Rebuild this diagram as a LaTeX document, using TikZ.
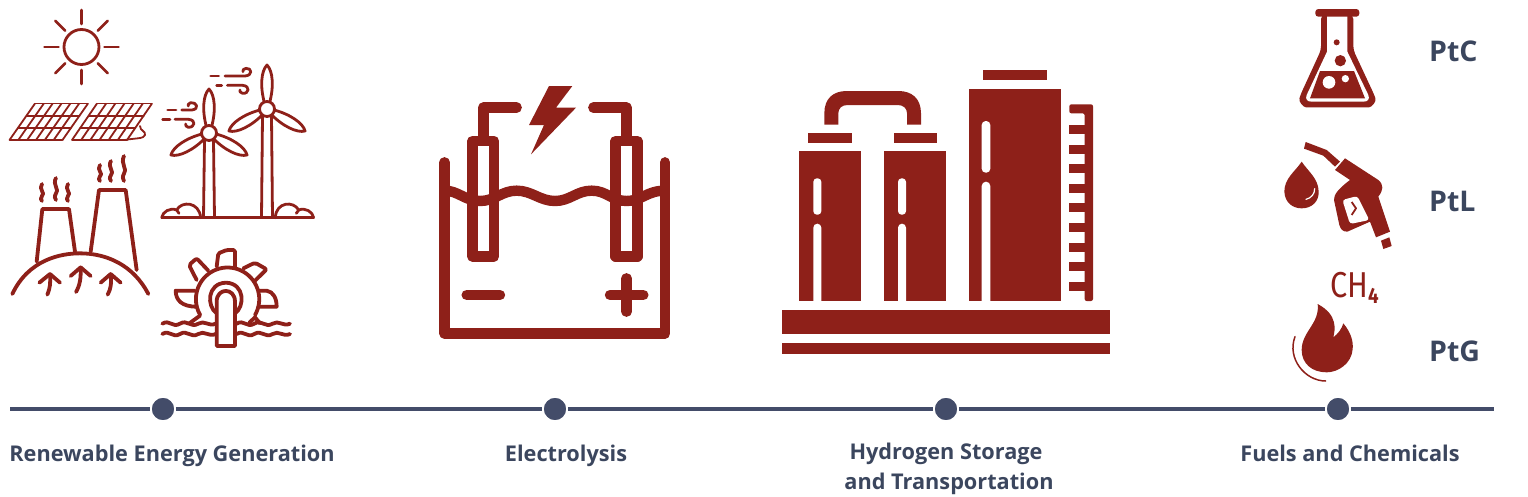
\documentclass[tikz,border=0pt]{standalone}
\usepackage{fontspec}
\setmainfont{Open Sans}
\newfontfamily\chfont{Fira Sans}
\definecolor{brick}{HTML}{8E2019}
\definecolor{slate}{HTML}{3B465E}
\definecolor{rail}{HTML}{434C69}
\tikzset{
  thin icon/.style={draw=brick,line width=2.8pt,line cap=round,line join=round},
  mid icon/.style={draw=brick,line width=3.8pt,line cap=round,line join=round},
  thick icon/.style={draw=brick,line width=10.4pt,line cap=round,line join=round},
  solid icon/.style={fill=brick,draw=none},
  hole/.style={fill=white,draw=none},
  stage dot/.style={circle,fill=rail,draw=white,line width=1.5pt,minimum size=24pt,inner sep=0pt},
  stage label/.style={text=slate,font=\bfseries\fontsize{21.7}{28}\selectfont,align=center,anchor=base,inner sep=0pt},
  route label/.style={text=slate,font=\bfseries\fontsize{28.5}{32}\selectfont,anchor=base west,inner sep=0pt},
  zoomed/.style={x=0.33333pt,y=-0.33333pt},
}
\newcommand{\solarpanel}[3]{%
  \foreach \i in {0,...,6}{\draw[brick,line width=1.8pt] ({#1+\i*#3/6},103.5) -- ({#2+\i*#3/6},140);}
  \foreach \j in {0,...,3}{\draw[brick,line width=1.8pt,line cap=round] ({#1+(#2-#1)*\j/3},{103.5+36.5*\j/3}) -- ({#1+(#2-#1)*\j/3+#3},{103.5+36.5*\j/3});}
}
\newcommand{\blade}[3]{%
  \begin{scope}[shift={(#1,#2)},rotate=#3,y=1pt]
    \draw[thin icon,fill=white] (-2.5,6) .. controls (-7,22) and (-6,38) .. (0,44) .. controls (6,38) and (7,22) .. (2.5,6);
  \end{scope}}
\newcommand{\smoke}[3]{%
  \draw[mid icon] (#1,#2) .. controls (#1-4,{#2+(#3-#2)*.3}) and (#1+4,{#2+(#3-#2)*.55}) .. (#1,{#2+(#3-#2)*.7}) .. controls (#1-2,{#2+(#3-#2)*.85}) and (#1-1,{#2+(#3-#2)*.93}) .. (#1,#3);}
\newcommand{\wavelet}[2]{%
  \draw[mid icon] (#1,#2) .. controls (#1+22,#2-14) and (#1+30,#2+14) .. (#1+53,#2)
   .. controls (#1+75,#2-14) and (#1+85,#2+14) .. (#1+108,#2)
   .. controls (#1+125,#2-12) and (#1+140,#2+10) .. (#1+160,#2);}
\begin{document}
\begin{tikzpicture}[x=1pt,y=-1pt]
\useasboundingbox (0,0) rectangle (1528,496);
% ---- timeline
\coordinate (railstart) at (10,409);
\coordinate (railend) at (1494,409);
\node[stage dot] (d1) at (163,409) {};
\node[stage dot] (d2) at (555,409) {};
\node[stage dot] (d3) at (946,409) {};
\node[stage dot] (d4) at (1338,409) {};
\draw[rail,line width=4pt] (railstart) -- (d1);
\draw[rail,line width=4pt] (d1) -- (d2);
\draw[rail,line width=4pt] (d2) -- (d3);
\draw[rail,line width=4pt] (d3) -- (d4);
\draw[rail,line width=4pt] (d4) -- (railend);
\node[stage label] (l1) at (172,461) {Renewable Energy Generation};
\node[stage label] (l2) at (566,461) {Electrolysis};
\node[stage label] (l3) at (946,459) {Hydrogen Storage};
\node[stage label] (l3b) at (949,489) {and Transportation};
\node[stage label] (l4) at (1350,461) {Fuels and Chemicals};
\node[route label] (ptc) at (1429,61) {PtC};
\node[route label] (ptl) at (1429,211) {PtL};
\node[route label] (ptg) at (1429,361) {PtG};
% ---- sun
\draw[thin icon] (81.5,47) circle (17.5);
\foreach \a in {0,45,...,315}{\draw[thin icon] ({81.5+23*cos(\a)},{47+23*sin(\a)}) -- ({81.5+37*cos(\a)},{47+37*sin(\a)});}
% ---- solar panels
\solarpanel{35}{9.5}{53}
\solarpanel{97}{72}{55}
\draw[brick,line width=1.8pt,line cap=round,line join=round] (140,126) .. controls (140,131) and (146,131) .. (145,135) .. controls (144,139) and (135,138) .. (125,140);
% ---- wind
\draw[thin icon] (204.5,141) -- (203.5,217.5);
\draw[thin icon] (213.5,141) -- (214.5,217.5);
\draw[thin icon] (262.5,116) -- (261.5,217.5);
\draw[thin icon] (271.5,116) -- (272.5,217.5);
\blade{209}{133}{0}\blade{209}{133}{120}\blade{209}{133}{-120}
\blade{267}{109}{0}\blade{267}{109}{120}\blade{267}{109}{-120}
\draw[thin icon,fill=white] (209,133) circle (7.5);
\draw[thin icon,fill=white] (267,109) circle (7.5);
\begin{scope}[shift={(0,0)},zoomed]
  \draw[thin icon] (503,330) -- (528,330);
  \draw[thin icon] (545,330) -- (575,330) .. controls (600,328) and (590,305) .. (572,308) .. controls (565,310) and (563,315) .. (565,318);
  \draw[thin icon] (488,358) -- (510,358);
  \draw[thin icon] (525,358) -- (565,358) .. controls (590,360) and (585,382) .. (565,382) .. controls (558,380) and (556,376) .. (557,372);
  \draw[thin icon] (632,228) -- (656,228);
  \draw[thin icon] (675,228) -- (735,228) .. controls (760,226) and (755,203) .. (738,205) .. controls (730,206) and (727,211) .. (729,215);
  \draw[thin icon] (650,256) -- (665,256);
  \draw[thin icon] (682,256) -- (728,256) .. controls (752,258) and (747,282) .. (728,280) .. controls (720,278) and (718,274) .. (720,270);
\end{scope}
% ---- ground, clouds, geothermal, wheel
\begin{scope}[shift={(0,170)},zoomed]
  \draw[thin icon,line cap=butt] (483,143) -- (943,143);
  \draw[thin icon] (485,143) .. controls (488,125) and (510,112) .. (530,120) .. controls (545,92) and (598,95) .. (602,143);
  \draw[thin icon] (530,120) -- (537,130);
  \draw[thin icon] (941,143) .. controls (938,125) and (916,112) .. (896,120) .. controls (881,92) and (828,95) .. (826,143);
  \draw[thin icon] (896,120) -- (889,130);
  % geothermal
  \draw[mid icon] (37,372) .. controls (85,270) and (180,250) .. (240,250) .. controls (320,250) and (400,285) .. (445,372);
  \draw[mid icon] (110,275) -- (127,117) -- (207,117) -- (225,245);
  \draw[mid icon] (272,245) -- (297,60) -- (377,60) -- (410,300);
  \draw[mid icon] (118,338) -- (150,312) -- (180,338);
  \draw[mid icon] (150,312) .. controls (152,340) and (150,355) .. (142,374);
  \draw[mid icon] (212,318) -- (242,292) -- (272,318);
  \draw[mid icon] (242,292) .. controls (243,325) and (240,345) .. (228,366);
  \draw[mid icon] (302,338) -- (332,312) -- (362,338);
  \draw[mid icon] (332,312) .. controls (335,340) and (333,355) .. (323,374);
  % wheel
  \draw[mid icon] (765,435) arc (30:-210:95);
  \draw[mid icon] (650,430) .. controls (620,410) and (620,340) .. (678,338) .. controls (735,340) and (735,410) .. (705,430);
  \draw[mid icon,fill=white] (650,528) -- (650,395) .. controls (650,352) and (705,352) .. (705,395) -- (705,528) -- cycle;
  \draw[mid icon,rounded corners=1.5pt] (650,290) -- (655,250) -- (680,240) -- (705,240) -- (705,290);
  \draw[mid icon,rounded corners=2pt] (625,302) -- (590,265) -- (567,285) -- (590,330);
  \draw[mid icon,rounded corners=2pt] (730,295) -- (765,278) -- (800,298) -- (762,335);
  \draw[mid icon] (585,362) -- (527,362) .. controls (527,390) and (545,410) .. (590,410);
  \draw[mid icon] (775,362) -- (800,362) .. controls (820,365) and (830,385) .. (830,410) -- (775,410);
  \draw[mid icon] (600,437) -- (568,460);
  \draw[mid icon] (748,458) -- (765,442) -- (780,460);
  \wavelet{487}{461}\wavelet{487}{492}
  \wavelet{710}{461}\wavelet{710}{492}
\end{scope}
\smoke{42}{184}{201}
\smoke{56}{178}{200}
\smoke{68}{184}{201}
\smoke{100}{165}{181}
\smoke{111}{161}{181}
\smoke{124}{156}{181}
% ---- electrolyser
\begin{scope}[shift={(430,75)},zoomed]
  \draw[thick icon] (44,262) -- (44,776) -- (705,776) -- (705,262);
  \draw[thick icon,line cap=butt] (127,198) rectangle (192,544);
  \draw[thick icon,line cap=butt] (557,198) rectangle (622,544);
  \draw[thick icon] (160,190) -- (160,98) -- (260,98);
  \draw[thick icon] (590,190) -- (590,98) -- (490,98);
  \draw[thick icon,line cap=butt] (44,347) .. controls (85,347) and (105,378) .. (150,378) .. controls (195,378) and (215,347) .. (260,347) .. controls (305,347) and (330,378) .. (375,378) .. controls (420,378) and (440,347) .. (485,347) .. controls (530,347) and (545,378) .. (590,378) .. controls (635,378) and (650,347) .. (705,347);
  \draw[thick icon] (110,660) -- (210,660);
  \draw[thick icon] (540,660) -- (640,660);
  \draw[thick icon] (590,610) -- (590,710);
  \fill[solid icon] (357,33) -- (427,33) -- (378,98) -- (438,98) -- (303,238) -- (342,150) -- (297,150) -- cycle;
\end{scope}
% ---- storage
\begin{scope}[shift={(775,60)},zoomed]
  \fill[solid icon] (22,749) rectangle (1004,822);
  \fill[solid icon] (22,849) rectangle (1004,883);
  \fill[solid icon] (72,274) rectangle (258,723);
  \fill[solid icon] (328,274) rectangle (513,723);
  \fill[solid icon] (582,86) rectangle (857,723);
  \fill[solid icon] (100,220) rectangle (230,248);
  \fill[solid icon] (356,220) rectangle (485,248);
  \fill[solid icon] (625,31) rectangle (815,59);
  \fill[solid icon] (148,194) -- (148,160) .. controls (148,115) and (175,93) .. (215,93) -- (370,93) .. controls (410,93) and (438,115) .. (438,160) -- (438,194) -- (396,194) -- (396,160) .. controls (396,145) and (385,135) .. (368,135) -- (218,135) .. controls (200,135) and (190,145) .. (190,160) -- (190,194) -- cycle;
  \foreach \x in {115,369}{
    \fill[hole,rounded corners=3.5pt] (\x,355) rectangle (\x+24,464);
    \fill[hole] (\x,723) -- (\x,503) arc (180:360:12) -- (\x+24,723) -- cycle;
  }
  \fill[hole,rounded corners=4pt] (620,183) rectangle (646,338);
  \fill[hole] (620,723) -- (620,378) arc (180:360:13) -- (646,723) -- cycle;
  \fill[solid icon,rounded corners=2pt] (883,133) -- (954,133) -- (954,723) -- (929,723) -- (929,160) -- (883,160) -- cycle;
  \foreach \y in {195,254,312,371,430,489,548,607,665}{
    \fill[solid icon] (883,\y) rectangle (935,\y+27);
  }
\end{scope}
% ---- flask
\begin{scope}[shift={(1270,0)},zoomed]
  \fill[solid icon,rounded corners=3pt] (136,27) rectangle (268,50);
  \fill[solid icon,rounded corners=4pt] (153,45) -- (153,150) -- (92,283) .. controls (85,305) and (100,322) .. (120,322) -- (285,322) .. controls (305,322) and (320,305) .. (312,283) -- (250,150) -- (250,45) -- cycle;
  \fill[hole] (171,50) -- (171,155) -- (110,285) .. controls (105,298) and (112,305) .. (125,305) -- (280,305) .. controls (293,305) and (300,298) .. (295,285) -- (232,155) -- (232,50) -- cycle;
  \fill[solid icon] (150,213) -- (252,213) -- (285,295) -- (120,295) -- cycle;
  \fill[hole] (177,247) circle (19);
  \fill[hole] (226,236) circle (11);
  \fill[solid icon] (211,182) circle (17);
  \fill[solid icon] (200,127) circle (9);
  % drop
  \fill[solid icon] (95,485) .. controls (75,515) and (43,535) .. (43,575) .. controls (45,610) and (70,625) .. (95,625) .. controls (125,625) and (147,605) .. (146,575) .. controls (145,535) and (115,515) .. (95,485) -- cycle;
  \draw[white,line width=1.2pt,line cap=round] (134,566) .. controls (134,582) and (124,594) .. (108,598);
  % nozzle
  \fill[solid icon] (107,426) -- (170,450) -- (210,485) -- (195,500) -- (160,467) -- (102,446) -- cycle;
  \fill[solid icon] (225,475) -- (325,540) .. controls (342,555) and (340,570) .. (325,590) -- (360,695) -- (318,712) -- (300,665) -- (232,695) .. controls (218,695) and (212,688) .. (208,675) -- (192,600) .. controls (192,585) and (200,570) .. (240,540) -- (195,510) -- cycle;
  \fill[hole,rounded corners=3pt] (217,600) -- (262,588) -- (298,660) -- (240,672) -- cycle;
  \draw[brick,line width=1.8pt,line join=round] (245,606) -- (258,625) -- (245,645);
  \fill[solid icon] (333,722) -- (358,712) -- (365,738) -- (340,747) -- cycle;
\end{scope}
% ---- flame
\begin{scope}[shift={(1270,255)},zoomed]
  \fill[solid icon] (143,147) .. controls (205,180) and (195,225) .. (190,247) .. controls (205,235) and (215,222) .. (220,205) .. controls (245,235) and (250,262) .. (248,282) .. controls (245,325) and (205,352) .. (170,352) .. controls (125,352) and (95,325) .. (95,285) .. controls (95,230) and (150,205) .. (143,147) -- cycle;
  \draw[brick,line width=1.5pt,line cap=round] (75,245) .. controls (50,310) and (105,378) .. (167,378);
\end{scope}
\node[text=brick,inner sep=0pt,anchor=base west,xscale=.85,font=\chfont\fontsize{36}{36}\selectfont] (ch4) at (1330,297) {CH\raisebox{-6pt}{\bfseries\fontsize{22}{22}\selectfont 4}};
\end{tikzpicture}
\end{document}
